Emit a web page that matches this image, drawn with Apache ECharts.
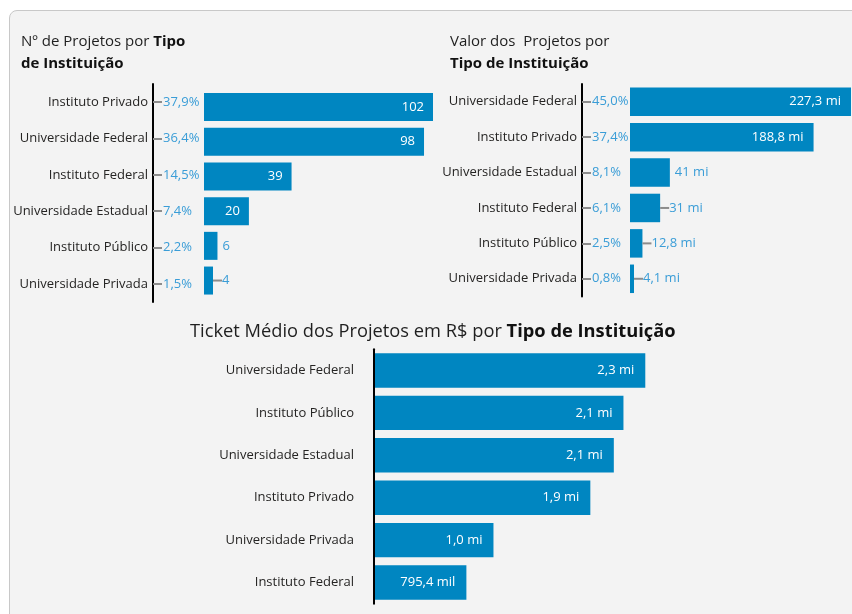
<!DOCTYPE html>
<html>
<head>
<meta charset="utf-8">
<script src="https://cdn.jsdelivr.net/npm/echarts@6/dist/echarts.min.js"></script>
<style>
  html, body { margin: 0; padding: 0; background: #ffffff; overflow: hidden; }
  #panel {
    position: absolute; left: 9px; top: 10px; width: 870px; height: 630px;
    background: #f3f3f3; border: 1.5px solid #c8c8c8; border-radius: 8px; box-sizing: border-box;
  }
  #chart { position: absolute; left: 0; top: 0; width: 852px; height: 614px; }
</style>
</head>
<body>
<div id="panel"></div>
<div id="chart"></div>
<script>
// Nº de projetos por tipo de instituição
const categoriasProjetos = ['Instituto Privado', 'Universidade Federal', 'Instituto Federal',
  'Universidade Estadual', 'Instituto Público', 'Universidade Privada'];
const numeroProjetos = [102, 98, 39, 20, 6, 4];

// Valor dos projetos (R$ milhões)
const categoriasValor = ['Universidade Federal', 'Instituto Privado', 'Universidade Estadual',
  'Instituto Federal', 'Instituto Público', 'Universidade Privada'];
const valorProjetos = [227.3, 188.8, 41, 31, 12.8, 4.1];

// Ticket médio por projeto (R$ milhões)
const categoriasTicket = ['Universidade Federal', 'Instituto Público', 'Universidade Estadual',
  'Instituto Privado', 'Universidade Privada', 'Instituto Federal'];
const ticketMedio = [2.319, 2.133, 2.051, 1.851, 1.026, 0.7954];

const FONT = "'Open Sans', 'Noto Sans', sans-serif";
const BAR = '#0086c1';
const ACCENT = '#3a9dd7';
const INK = '#252423';
const LEADER = '#8c8c8c';
const LABEL_SIZE = 13;

const comma = s => String(s).replace('.', ',');

function shares(arr) {
  const total = arr.reduce((a, b) => a + b, 0);
  return arr.map(v => comma((v / total * 100).toFixed(1)) + '%');
}

function fmtMi(v) { return comma(v) + ' mi'; }
function fmtTicket(v) {
  return v >= 1 ? comma(v.toFixed(1)) + ' mi' : comma((v * 1000).toFixed(1)) + ' mil';
}

// Value label: inside the bar when there is room, outside otherwise (with a short leader for tiny bars)
function valueLabel(text, mode, insideDist) {
  if (mode === 'inside') {
    return { show: true, position: 'insideRight', distance: insideDist, color: '#ffffff',
      fontSize: LABEL_SIZE, fontFamily: FONT, formatter: text };
  }
  if (mode === 'leader') {
    return { show: true, position: 'right', distance: 0,
      formatter: '{ln|}{t|' + text + '}',
      rich: {
        ln: { width: 9, height: 2, backgroundColor: LEADER, verticalAlign: 'middle' },
        t: { color: ACCENT, fontSize: LABEL_SIZE, fontFamily: FONT, verticalAlign: 'middle' }
      } };
  }
  return { show: true, position: 'right', distance: 5, color: ACCENT,
    fontSize: LABEL_SIZE, fontFamily: FONT, formatter: text };
}

const namesAxisLabel = (margin) => ({ color: INK, fontSize: LABEL_SIZE, fontFamily: FONT, margin: margin });

const chart = echarts.init(document.getElementById('chart'), null, { renderer: 'canvas' });

const titleRich = {
  n: { fontFamily: FONT, fontSize: 15, color: '#1f1f1f', fontWeight: 'normal', lineHeight: 22 },
  b: { fontFamily: FONT, fontSize: 15, color: '#111111', fontWeight: 'bold', lineHeight: 22 }
};

const option = {
  animation: false,
  backgroundColor: 'transparent',
  title: [
    { left: 21, top: 31, padding: 0, text: '{n|Nº de Projetos por }{b|Tipo}\n{b|de Instituição}',
      textStyle: { fontWeight: 'normal', rich: titleRich } },
    { left: 450, top: 31, padding: 0, text: '{n|Valor dos  Projetos por}\n{b|Tipo de Instituição}',
      textStyle: { fontWeight: 'normal', rich: titleRich } },
    { left: 190, top: 320, padding: 0, text: '{n|Ticket Médio dos Projetos em R$ por }{b|Tipo de Instituição}',
      textStyle: { fontWeight: 'normal', rich: {
        n: { fontFamily: FONT, fontSize: 18.3, color: '#1f1f1f', fontWeight: 'normal', lineHeight: 24 },
        b: { fontFamily: FONT, fontSize: 18.3, color: '#111111', fontWeight: 'bold', lineHeight: 24 }
      } } }
  ],
  graphic: [
    { type: 'rect', left: 430, top: 93, shape: { width: 3, height: 28 }, style: { fill: BAR } }
  ],
  grid: [
    { left: 153, top: 84, width: 51, height: 218 },      // chart 1 labels
    { left: 204, top: 89.7, width: 229, height: 208.2 }, // chart 1 bars
    { left: 582, top: 84, width: 48, height: 212.5 },     // chart 2 labels
    { left: 630, top: 84, width: 221, height: 212.5 },    // chart 2 bars
    { left: 373, top: 349.3, width: 281.8, height: 254.4 } // chart 3
  ],
  xAxis: [
    { gridIndex: 0, type: 'value', min: 0, max: 1, show: false },
    { gridIndex: 1, type: 'value', min: 0, max: 102, show: false },
    { gridIndex: 2, type: 'value', min: 0, max: 1, show: false },
    { gridIndex: 3, type: 'value', min: 0, max: 227.3, show: false },
    { gridIndex: 4, type: 'value', min: 0, max: 2.4, show: false }
  ],
  yAxis: [
    { gridIndex: 0, type: 'category', position: 'left', inverse: true, data: categoriasProjetos,
      axisLine: { show: true, lineStyle: { color: '#000000', width: 2 } },
      axisTick: { show: true, inside: true, alignWithLabel: true, length: 9, lineStyle: { color: LEADER, width: 2 } },
      axisLabel: namesAxisLabel(5), splitLine: { show: false } },
    { gridIndex: 0, type: 'category', position: 'left', inverse: true, data: shares(numeroProjetos),
      axisLine: { show: false }, axisTick: { show: false }, splitLine: { show: false },
      axisLabel: { align: 'left', margin: -10, color: ACCENT, fontSize: LABEL_SIZE, fontFamily: FONT } },
    { gridIndex: 1, type: 'category', inverse: true, data: categoriasProjetos, show: false },

    { gridIndex: 2, type: 'category', position: 'left', inverse: true, data: categoriasValor,
      axisLine: { show: true, lineStyle: { color: '#000000', width: 2 } },
      axisTick: { show: true, inside: true, alignWithLabel: true, length: 9, lineStyle: { color: LEADER, width: 2 } },
      axisLabel: namesAxisLabel(5), splitLine: { show: false } },
    { gridIndex: 2, type: 'category', position: 'left', inverse: true, data: shares(valorProjetos),
      axisLine: { show: false }, axisTick: { show: false }, splitLine: { show: false },
      axisLabel: { align: 'left', margin: -10, color: ACCENT, fontSize: LABEL_SIZE, fontFamily: FONT } },
    { gridIndex: 3, type: 'category', inverse: true, data: categoriasValor, show: false },

    { gridIndex: 4, type: 'category', position: 'left', inverse: true, data: categoriasTicket,
      offset: -1, z: 5,
      axisLine: { show: true, lineStyle: { color: '#000000', width: 2 } },
      axisTick: { show: false }, splitLine: { show: false },
      axisLabel: namesAxisLabel(20) }
  ],
  series: [
    { type: 'bar', xAxisIndex: 1, yAxisIndex: 2, barWidth: 28,
      itemStyle: { color: BAR },
      data: numeroProjetos.map(v => ({
        value: v,
        label: valueLabel(String(v), v >= 20 ? 'inside' : (v < 5 ? 'leader' : 'outside'), 9)
      })) },
    { type: 'bar', xAxisIndex: 3, yAxisIndex: 5, barWidth: 28.5,
      itemStyle: { color: BAR },
      data: valorProjetos.map(v => ({
        value: v,
        label: valueLabel(fmtMi(v), v >= 100 ? 'inside' : (v < 35 ? 'leader' : 'outside'), 10)
      })) },
    { type: 'bar', xAxisIndex: 4, yAxisIndex: 6, barWidth: 34.4,
      itemStyle: { color: BAR },
      data: ticketMedio.map(v => ({ value: v, label: valueLabel(fmtTicket(v), 'inside', 11) })) }
  ]
};

chart.setOption(option);
</script>
</body>
</html>
